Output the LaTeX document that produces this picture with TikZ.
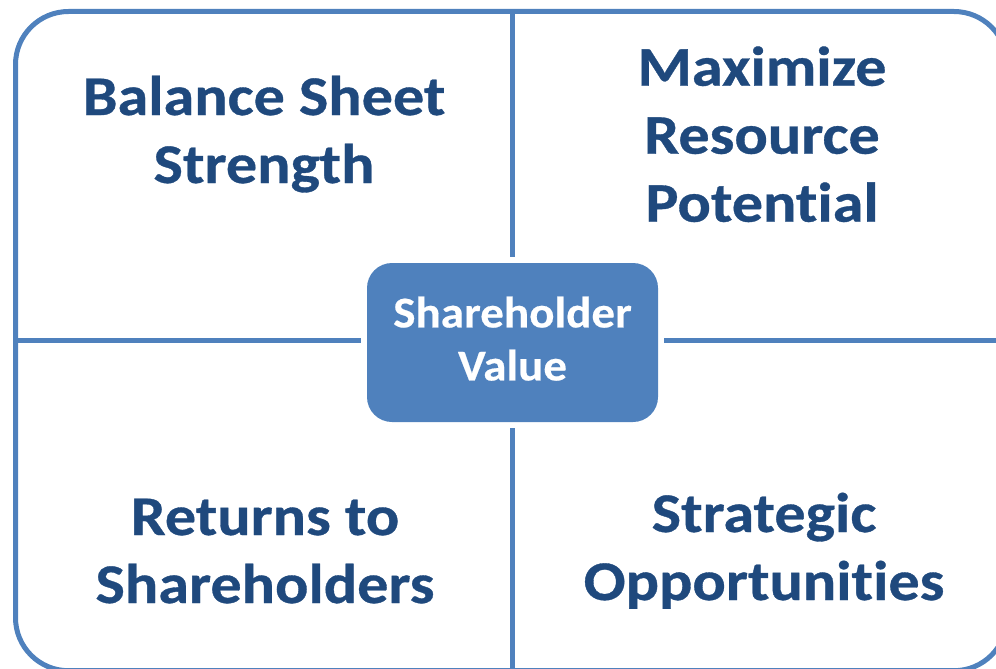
\documentclass[tikz,border=0pt]{standalone}
\usepackage{fontspec}
\setmainfont{Carlito}
\newfontfamily\quadfont{Carlito}[FakeStretch=1.11, FakeBold=0.6, Ligatures=CommonOff]
\newfontfamily\hubfont{Carlito}[FakeStretch=1.07, FakeBold=0.4, Ligatures=CommonOff]
\definecolor{frameblue}{HTML}{4F81BD}
\definecolor{textblue}{HTML}{1F497D}
\begin{document}
\begin{tikzpicture}[x=1pt,y=-1pt,
  frame/.style={draw=frameblue, line width=5pt},
  divider/.style={draw=frameblue, line width=5pt},
  quadtext/.style={text=textblue, font=\quadfont\fontsize{56}{68}\selectfont\bfseries, align=center, inner sep=0pt, anchor=base},
  hub/.style={fill=frameblue, rounded corners=25pt, minimum width=291pt, minimum height=159pt, inner sep=0pt, outer sep=6pt, text depth=8pt, text=white, font=\hubfont\fontsize{44}{53}\selectfont\bfseries, align=center}]
\useasboundingbox (0,0) rectangle (996,669);
\draw[frame, rounded corners=53pt] (15.5,11.5) rectangle (1007,670.7);
\coordinate (top) at (512.5,11.5);
\coordinate (bottom) at (512.5,670.7);
\coordinate (left) at (15.5,340.7);
\coordinate (right) at (1007,340.7);
\node[hub] (hubbox) at (512.5,342.5) {Shareholder\\Value};
\draw[divider] (top) -- (top |- hubbox.north);
\draw[divider] (bottom) -- (bottom |- hubbox.south);
\draw[divider] (left) -- (left -| hubbox.west);
\draw[divider] (right) -- (right -| hubbox.east);
\node[quadtext] (tl) at (264,183) {Balance Sheet\\Strength};
\node[quadtext] (tr) at (762,221.7) {Maximize\\Resource\\Potential};
\node[quadtext] (bl) at (265,603) {Returns to\\Shareholders};
\node[quadtext] (br) at (764,600) {Strategic\\Opportunities};
\end{tikzpicture}
\end{document}
